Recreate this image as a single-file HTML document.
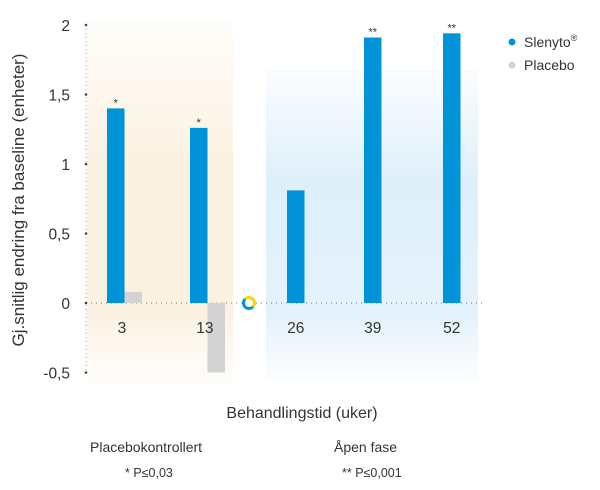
<!DOCTYPE html>
<html><head><meta charset="utf-8"><style>
body{margin:0;background:#fff;font-family:"Liberation Sans",sans-serif;}
svg text{font-family:"Liberation Sans",sans-serif;fill:#333;}
</style></head><body>
<svg width="600" height="485" viewBox="0 0 600 485">
<defs>
<linearGradient id="og" x1="0" y1="0" x2="0" y2="1">
<stop offset="0" stop-color="#fdf6ea" stop-opacity="0.3"/><stop offset="0.4" stop-color="#fbf1e0"/><stop offset="0.8" stop-color="#fbf1e0"/><stop offset="1" stop-color="#fdf6ea" stop-opacity="0.2"/></linearGradient>
<linearGradient id="bg" x1="0" y1="0" x2="0" y2="1">
<stop offset="0" stop-color="#e4f2fb" stop-opacity="0.2"/><stop offset="0.35" stop-color="#deeffa"/><stop offset="0.8" stop-color="#e4f2fb"/><stop offset="1" stop-color="#eef7fd" stop-opacity="0.2"/></linearGradient>
<linearGradient id="ring" x1="0" y1="1" x2="1" y2="0"><stop offset="0.45" stop-color="#0093d8"/><stop offset="0.55" stop-color="#f5d800"/></linearGradient>
</defs>
<rect x="87" y="20" width="146" height="365" fill="url(#og)"/>
<rect x="266" y="70" width="212" height="312" fill="url(#bg)"/>
<g id="axis"></g>
<g id="bars"></g>
<circle cx="249" cy="303" r="5.5" fill="#fff" stroke="url(#ring)" stroke-width="3"/>
<text transform="translate(24,200) rotate(-90)" text-anchor="middle" font-size="17">Gj.snitlig endring fra baseline (enheter)</text>
<text x="302" y="418" text-anchor="middle" font-size="16">Behandlingstid (uker)</text>
<text x="90" y="452" font-size="14">Placebokontrollert</text>
<text x="125" y="477" font-size="12.5">*  P≤0,03</text>
<text x="334" y="452" font-size="14">Åpen fase</text>
<text x="342" y="477" font-size="12.5">**  P≤0,001</text>
<g>
<circle cx="512" cy="42" r="3.5" fill="#0093d8"/>
<text x="524" y="47" font-size="14">Slenyto<tspan font-size="9" dy="-6">®</tspan></text>
<circle cx="512" cy="65" r="3.5" fill="#d3d3d3"/>
<text x="524" y="70" font-size="14">Placebo</text>
</g>
</svg>
<script>
const weeks=["3","13","26","39","52"];
const slenyto=[1.40,1.26,0.81,1.91,1.94];
const placebo=[0.08,-0.5,null,null,null];
const stars=["*","*","","**","**"];
const yTicks=[2,1.5,1,0.5,0,-0.5];
const yTickLabels=["2","1,5","1","0,5","0","-0,5"];
const NS="http://www.w3.org/2000/svg";
const y0=303, unit=139;
const y=v=>y0-v*unit;
const groupX=[107,190,287,364,443];
const bw=17.5;
function mk(t,a,parent){const e=document.createElementNS(NS,t);for(const k in a)e.setAttribute(k,a[k]);parent.appendChild(e);return e;}
const ax=document.getElementById('axis'), bars=document.getElementById('bars');
let l=mk('line',{x1:86,y1:y(2),x2:86,y2:y(-0.5),stroke:'#999','stroke-width':1,'stroke-dasharray':'1 3'},ax);


l=mk('line',{x1:86,y1:y0,x2:486,y2:y0,stroke:'#777','stroke-width':1,'stroke-dasharray':'1 4'},ax);


yTicks.forEach((v,i)=>{
 const d=mk('circle',{cx:86,cy:y(v),r:1.3,fill:'#444'},ax);
 
 
 const t=mk('text',{x:70,y:y(v)+6,'text-anchor':'end','font-size':15.5},ax);
 
 
 t.textContent=yTickLabels[i];
});
weeks.forEach((w,i)=>{
 const x=groupX[i], v=slenyto[i];
 const r=mk('rect',{x:x,y:Math.min(y(v),y0),width:bw,height:Math.abs(y(v)-y0),fill:'#0093d8'},bars);
 
 
 if(placebo[i]!==null){
  const p=placebo[i];
  const r2=mk('rect',{x:x+bw,y:Math.min(y(p),y0),width:bw,height:Math.abs(y(p)-y0),fill:'#d3d3d3'},bars);
  
  
 }
 if(stars[i]){
  const s=mk('text',{x:x+bw/2,y:y(v)-2,'text-anchor':'middle','font-size':11},bars);
  
  
  s.textContent=stars[i];
 }
 const cx=placebo[i]!==null? x+bw*0.85 : x+bw/2;
 const t=mk('text',{x:cx,y:333,'text-anchor':'middle','font-size':15.5},bars);
 
 
 t.textContent=w;
});
</script>
</body></html>
